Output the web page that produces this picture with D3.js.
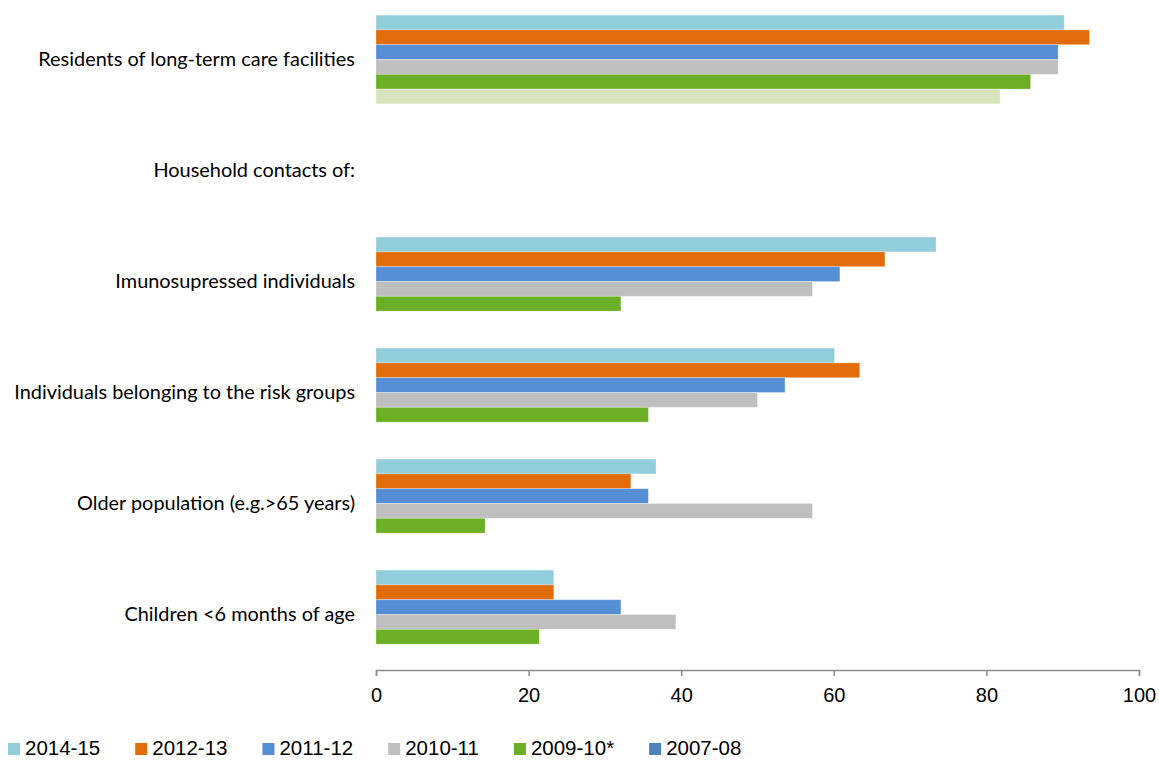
<!DOCTYPE html>
<html>
<head>
<meta charset="utf-8">
<script src="https://cdn.jsdelivr.net/npm/d3@7"></script>
<style>
  html, body { margin: 0; padding: 0; background: #fff; }
  svg { display: block; }
</style>
</head>
<body>
<svg id="chart" width="1159" height="760"></svg>
<script>
// Vaccination target groups, top to bottom
const categories = [
  "Residents of long-term care facilities",
  "Household contacts of:",
  "Imunosupressed individuals",
  "Individuals belonging to the risk groups",
  "Older population (e.g.>65 years)",
  "Children <6 months of age"
];

// Seasons, in drawing order within each group
const seasons = ["2014-15", "2012-13", "2011-12", "2010-11", "2009-10*", "2007-08"];

// Percentage per season (null = no bar)
const values2014_15 = [90.2, null, 73.4, 60.1, 36.7, 23.3];
const values2012_13 = [93.5, null, 66.7, 63.4, 33.4, 23.3];
const values2011_12 = [89.4, null, 60.8, 53.6, 35.7, 32.1];
const values2010_11 = [89.4, null, 57.2, 50.0, 57.2, 39.3];
const values2009_10 = [85.8, null, 32.1, 35.7, 14.3, 21.4];
const values2007_08 = [81.8, null, null, null, null, null];

const seriesValues = [values2014_15, values2012_13, values2011_12, values2010_11, values2009_10, values2007_08];

const xTicks = [0, 20, 40, 60, 80, 100];

// Bar fills and legend swatches
const barColors    = ["#92CDDC", "#E36C0A", "#558ED5", "#BFBFBF", "#6AAF25", "#D7E4BD"];
const legendColors = ["#92CDDC", "#E36C0A", "#558ED5", "#BFBFBF", "#6AAF25", "#4F81BD"];

const svg = d3.select("#chart");

const x = d3.scaleLinear().domain([0, 100]).range([376, 1139]);
const y0 = d3.scaleBand().domain(categories).range([4, 670]).paddingInner(0.2).paddingOuter(0.1);
const y1 = d3.scaleBand().domain(seasons).range([0, y0.bandwidth()]);

const rows = categories.map((c, i) => ({
  category: c,
  bars: seasons.map((s, j) => ({ season: s, value: seriesValues[j][i], color: barColors[j] }))
}));

// Bars
const groups = svg.append("g").selectAll("g")
  .data(rows).join("g")
  .attr("transform", d => `translate(0,${y0(d.category)})`);

groups.selectAll("rect")
  .data(d => d.bars.filter(b => b.value != null))
  .join("rect")
  .attr("x", x(0))
  .attr("y", d => y1(d.season))
  .attr("width", d => x(d.value) - x(0))
  .attr("height", y1.bandwidth())
  .attr("fill", d => d.color)
  .attr("stroke", "rgba(255,255,255,0.35)")
  .attr("stroke-width", 0.8);

// Category labels
svg.append("g").selectAll("text")
  .data(categories).join("text")
  .attr("x", 355)
  .attr("y", d => y0(d) + y0.bandwidth() / 2)
  .attr("dy", "0.35em")
  .attr("text-anchor", "end")
  .attr("font-family", "Lato, 'Open Sans', sans-serif")
  .attr("font-size", 19.9)
  .attr("fill", "#000")
  .text(d => d);

// X axis
const xAxis = svg.append("g")
  .attr("transform", "translate(0,670)")
  .call(d3.axisBottom(x).tickValues(xTicks).tickSize(6).tickPadding(12).tickFormat(d3.format("d")));
xAxis.select(".domain").attr("stroke", "#8c8c8c").attr("stroke-width", 1.5);
xAxis.selectAll(".tick line").attr("stroke", "#8c8c8c").attr("stroke-width", 1.5);
xAxis.selectAll(".tick text")
  .attr("font-family", "'Liberation Sans', Arial, sans-serif")
  .attr("font-size", 20)
  .attr("fill", "#000");

// Legend, laid out left to right from measured label widths
const legend = svg.append("g").attr("transform", "translate(0,748)");
let cursor = 8;
seasons.forEach((s, i) => {
  const item = legend.append("g").attr("transform", `translate(${cursor},0)`);
  item.append("rect")
    .attr("x", 0).attr("y", -5)
    .attr("width", 12).attr("height", 12)
    .attr("fill", legendColors[i]);
  const t = item.append("text")
    .attr("x", 17)
    .attr("y", 0)
    .attr("dy", "0.35em")
    .attr("font-family", "'Liberation Sans', Arial, sans-serif")
    .attr("font-size", 20.5)
    .attr("fill", "#000")
    .text(s);
  cursor += 17 + t.node().getComputedTextLength() + 35;
});
</script>
</body>
</html>
